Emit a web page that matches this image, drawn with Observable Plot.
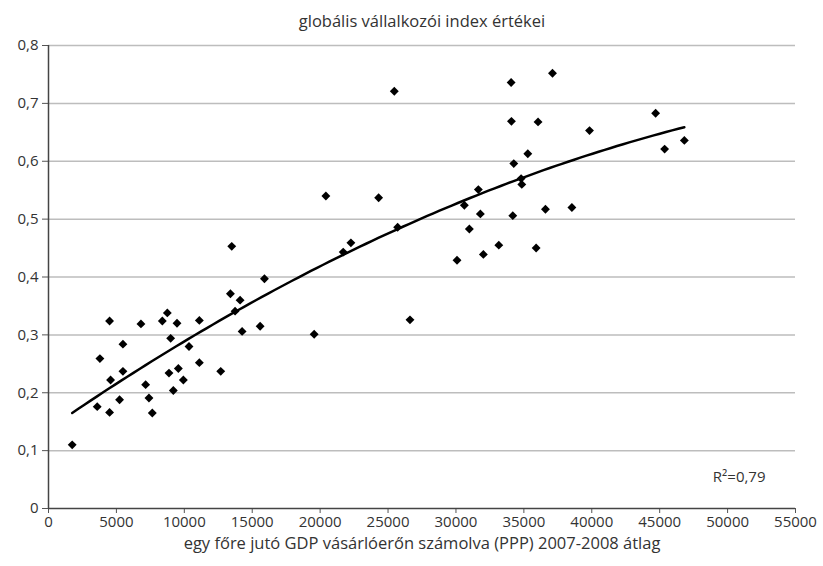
<!DOCTYPE html>
<html><head><meta charset="utf-8">
<script src="https://cdn.jsdelivr.net/npm/d3@7"></script>
<script src="https://cdn.jsdelivr.net/npm/@observablehq/plot@0.6"></script>
<style>body{margin:0;background:#fff;} svg{font-family:"Open Sans",Lato,sans-serif;}</style>
</head><body><div id="chart"></div>
<script>
const title = "globális vállalkozói index értékei";
const xLabel = "egy főre jutó GDP vásárlóerőn számolva (PPP) 2007-2008 átlag";
const r2Label = "R²=0,79";
const gdp = [1745,3587,3785,4497,4497,4571,5233,5480,5480,6807,7151,7397,7642,8380,8749,8871,8994,9191,9462,9560,9929,10345,11107,11107,12681,13394,13492,13738,14107,14255,15582,15900,19560,20422,21699,22265,24307,25460,25706,26615,30079,30618,30987,31650,31797,32018,33154,34061,34085,34184,34258,34798,34848,35290,35904,36044,36589,37107,38536,39834,44701,45365,46816];
const gei = [0.110,0.176,0.259,0.166,0.324,0.222,0.188,0.284,0.237,0.319,0.214,0.191,0.165,0.324,0.338,0.234,0.294,0.204,0.320,0.242,0.222,0.280,0.325,0.252,0.237,0.371,0.453,0.341,0.360,0.306,0.315,0.397,0.301,0.540,0.443,0.459,0.537,0.721,0.486,0.326,0.429,0.524,0.483,0.551,0.509,0.439,0.455,0.736,0.669,0.506,0.596,0.570,0.560,0.613,0.450,0.668,0.517,0.752,0.520,0.653,0.683,0.621,0.636];
const xTicks = d3.range(0, 55001, 5000);
const yTicks = d3.range(0, 0.81, 0.1);

const data = gdp.map((x, i) => ({x, y: gei[i]}));

// quadratic least-squares trend (as in the original's polynomial trendline)
function quadFit(xs, ys) {
  let S = [0,0,0,0,0], T = [0,0,0];
  xs.forEach((x, i) => {
    const s = x / 10000;
    let p = 1;
    for (let k = 0; k < 5; k++) { S[k] += p; p *= s; }
    T[0] += ys[i]; T[1] += ys[i]*s; T[2] += ys[i]*s*s;
  });
  const A = [[S[0],S[1],S[2],T[0]],[S[1],S[2],S[3],T[1]],[S[2],S[3],S[4],T[2]]];
  for (let i = 0; i < 3; i++) {
    for (let j = i+1; j < 3; j++) {
      const f = A[j][i] / A[i][i];
      for (let k = i; k < 4; k++) A[j][k] -= f * A[i][k];
    }
  }
  const c = [0,0,0];
  for (let i = 2; i >= 0; i--) {
    let s = A[i][3];
    for (let k = i+1; k < 3; k++) s -= A[i][k] * c[k];
    c[i] = s / A[i][i];
  }
  return x => { const s = x / 10000; return c[0] + c[1]*s + c[2]*s*s; };
}
const f = quadFit(gdp, gei);
const [xmin, xmax] = d3.extent(gdp);
const trend = d3.range(0, 101).map(i => { const x = xmin + (xmax - xmin) * i / 100; return {x, y: f(x)}; });

const txt = "#333";
const fmtY = d => d === 0 ? "0" : d.toFixed(1).replace(".", ",");
const chart = Plot.plot({
  width: 823, height: 566,
  marginLeft: 48, marginRight: 28, marginTop: 45, marginBottom: 58,
  style: {fontFamily: "'Open Sans', Lato, sans-serif", fontSize: "15px", color: txt},
  x: {domain: [0, 55000]},
  y: {domain: [0, 0.8]},
  marks: [
    Plot.gridY(yTicks.filter(d => d > 0), {stroke: "#bdbdbd", strokeOpacity: 1, strokeWidth: 1.5}),
    Plot.axisX({ticks: xTicks, tickFormat: d => String(d), tickSize: 5, tickPadding: 3, label: null, fontSize: 15, stroke: "#555", fill: txt}),
    Plot.axisY({ticks: yTicks, tickFormat: fmtY, tickSize: 6, tickPadding: 4, label: null, fontSize: 15, stroke: "#555", fill: txt}),
    Plot.ruleX([0], {stroke: "#444", strokeWidth: 1.5}),
    Plot.ruleY([0], {stroke: "#444", strokeWidth: 1.5}),
    Plot.line(trend, {x: "x", y: "y", stroke: "#000", strokeWidth: 2.5}),
    Plot.dot(data, {x: "x", y: "y", symbol: "diamond2", r: 4, fill: "#000", stroke: "none"}),
    Plot.text([r2Label], {frameAnchor: "bottom-right", dx: -30, dy: -27, fontSize: 15, fill: txt}),
    Plot.text([xLabel], {frameAnchor: "bottom", dy: 40, fontSize: 16.5, fill: txt}),
    Plot.text([title], {frameAnchor: "top", dy: -30, fontSize: 16.5, fill: txt})
  ]
});
document.getElementById("chart").appendChild(chart);
</script></body></html>
